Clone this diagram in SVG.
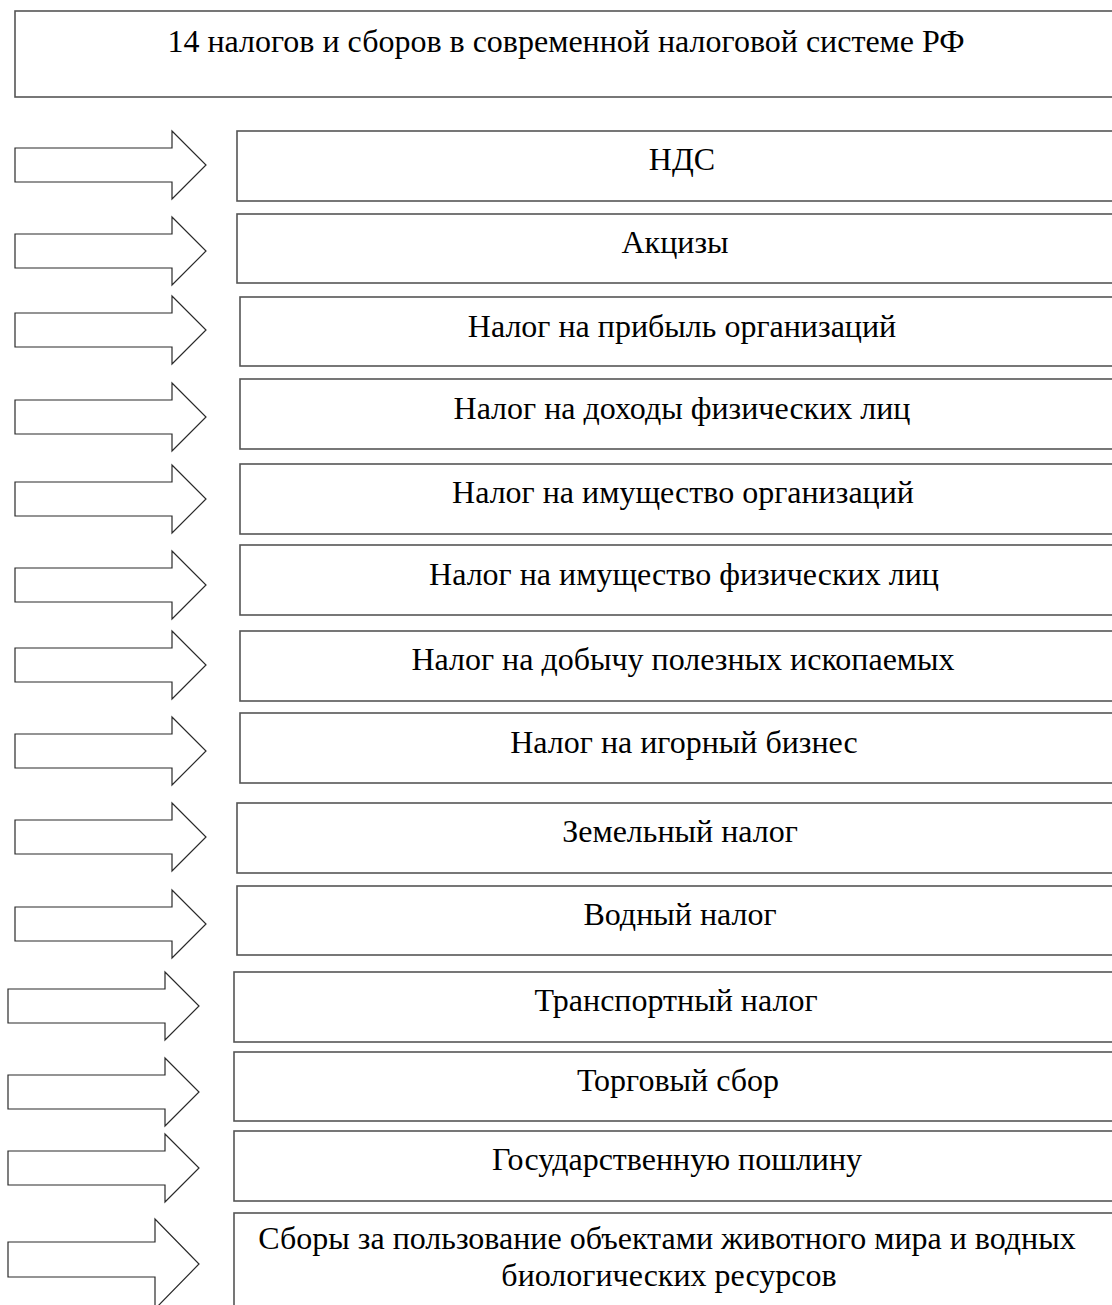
<svg xmlns="http://www.w3.org/2000/svg" xmlns:xlink="http://www.w3.org/1999/xlink" width="1112" height="1305" viewBox="0 0 1112 1305">
<style>
.box{fill:#fff;stroke:#555;stroke-width:1.6}
.arr{fill:#fff;stroke:#2a2a2a;stroke-width:1.2;stroke-linejoin:miter}
.t{font-family:"Liberation Serif","Times New Roman",serif;font-size:32px;fill:#000;text-anchor:middle}
</style>
<defs>
<polygon id="arrow" class="arr" points="15,-17 172,-17 172,-34 206,0 172,34 172,17 15,17"/>
</defs>
<rect width="1112" height="1305" fill="#fff"/>
<g id="title">
<rect class="box" x="15" y="11" width="1120" height="86"/>
<text class="t" x="566" y="52">14 налогов и сборов в современной налоговой системе РФ</text>
</g>
<g id="connectors">
<use xlink:href="#arrow" href="#arrow" x="0" y="165"/>
<use xlink:href="#arrow" href="#arrow" x="0" y="251"/>
<use xlink:href="#arrow" href="#arrow" x="0" y="330"/>
<use xlink:href="#arrow" href="#arrow" x="0" y="417"/>
<use xlink:href="#arrow" href="#arrow" x="0" y="499"/>
<use xlink:href="#arrow" href="#arrow" x="0" y="585"/>
<use xlink:href="#arrow" href="#arrow" x="0" y="665"/>
<use xlink:href="#arrow" href="#arrow" x="0" y="751"/>
<use xlink:href="#arrow" href="#arrow" x="0" y="837"/>
<use xlink:href="#arrow" href="#arrow" x="0" y="924"/>
<use xlink:href="#arrow" href="#arrow" x="-7" y="1006"/>
<use xlink:href="#arrow" href="#arrow" x="-7" y="1092"/>
<use xlink:href="#arrow" href="#arrow" x="-7" y="1168"/>
<polygon class="arr" points="8,1242 155,1242 155,1219 199,1264 155,1309 155,1277 8,1277"/>
</g>
<g id="n1"><rect class="box" x="237" y="131" width="900" height="70"/><text class="t" x="682" y="170">НДС</text></g>
<g id="n2"><rect class="box" x="237" y="214" width="900" height="69"/><text class="t" x="675" y="253">Акцизы</text></g>
<g id="n3"><rect class="box" x="240" y="297" width="900" height="69"/><text class="t" x="682" y="337">Налог на прибыль организаций</text></g>
<g id="n4"><rect class="box" x="240" y="379" width="900" height="70"/><text class="t" x="682" y="419">Налог на доходы физических лиц</text></g>
<g id="n5"><rect class="box" x="240" y="464" width="900" height="70"/><text class="t" x="683" y="503">Налог на имущество организаций</text></g>
<g id="n6"><rect class="box" x="240" y="545" width="900" height="70"/><text class="t" x="684" y="585">Налог на имущество физических лиц</text></g>
<g id="n7"><rect class="box" x="240" y="631" width="900" height="70"/><text class="t" x="683" y="670">Налог на добычу полезных ископаемых</text></g>
<g id="n8"><rect class="box" x="240" y="713" width="900" height="70"/><text class="t" x="684" y="753">Налог на игорный бизнес</text></g>
<g id="n9"><rect class="box" x="237" y="803" width="900" height="70"/><text class="t" x="680" y="842">Земельный налог</text></g>
<g id="n10"><rect class="box" x="237" y="886" width="900" height="69"/><text class="t" x="680" y="925">Водный налог</text></g>
<g id="n11"><rect class="box" x="234" y="972" width="900" height="70"/><text class="t" x="676" y="1011">Транспортный налог</text></g>
<g id="n12"><rect class="box" x="234" y="1052" width="900" height="69"/><text class="t" x="678" y="1091">Торговый сбор</text></g>
<g id="n13"><rect class="box" x="234" y="1131" width="900" height="70"/><text class="t" x="677" y="1170">Государственную пошлину</text></g>
<g id="n14"><rect class="box" x="234" y="1213" width="900" height="120"/><text class="t" x="667" y="1249">Сборы за пользование объектами животного мира и водных</text><text class="t" x="669" y="1286">биологических ресурсов</text></g>
</svg>
